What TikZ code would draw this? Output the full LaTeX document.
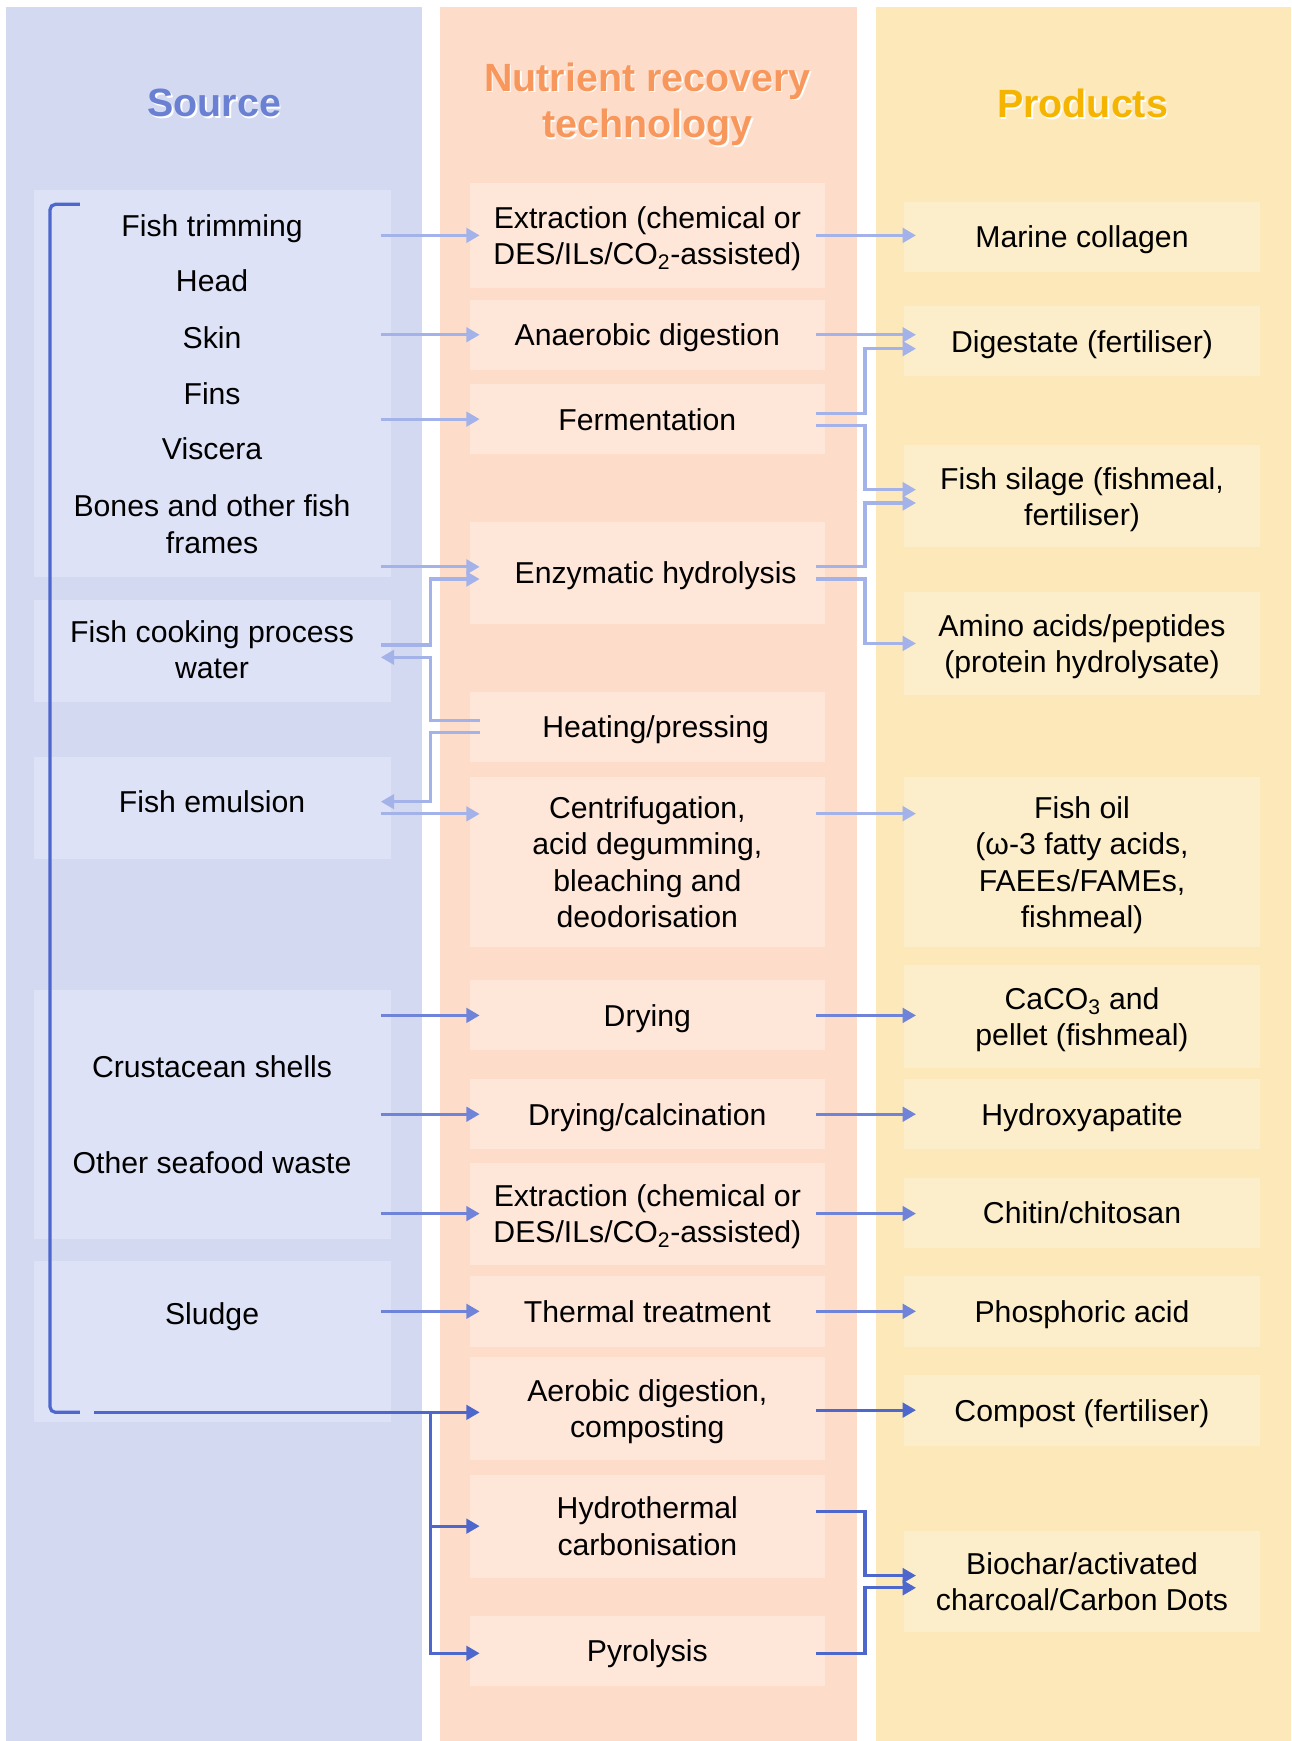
\documentclass[tikz,border=0pt]{standalone}
\usepackage{fontspec}
\setmainfont{Liberation Sans}
\usepackage{xcolor}
\usetikzlibrary{arrows.meta,calc}

\definecolor{srccol}{HTML}{D4D9F2}
\definecolor{srcbox}{HTML}{DEE2F6}
\definecolor{techcol}{HTML}{FDDDCA}
\definecolor{techbox}{HTML}{FEE6D8}
\definecolor{prodcol}{HTML}{FDE8B9}
\definecolor{prodbox}{HTML}{FDEECB}
\definecolor{arrowlight}{HTML}{A3B2E8}
\definecolor{arrowmid}{HTML}{6F84D8}
\definecolor{arrowdark}{HTML}{4D67CD}
\definecolor{headsrc}{HTML}{6A80D2}
\definecolor{headtech}{HTML}{F8975C}
\definecolor{headprod}{HTML}{F5B400}

\newcommand{\bodyfont}{\fontsize{27.2}{32.7}\selectfont}
\newcommand{\headfont}{\fontsize{35.5}{42}\selectfont\bfseries}

\begin{document}
\begin{tikzpicture}[
  x=1pt, y=-1pt,
  sbox/.style={fill=srcbox, inner sep=0pt, minimum width=321pt},
  tbox/.style={fill=techbox, inner sep=0pt, minimum width=320pt, align=center, font=\bodyfont, text depth=0pt},
  pbox/.style={fill=prodbox, inner sep=0pt, minimum width=321pt, align=center, font=\bodyfont, text depth=0pt},
  stext/.style={align=center, font=\bodyfont, inner sep=0pt, text depth=0pt},
  head/.style={align=center, font=\headfont},
  headglow/.style={head, text=white},
  arrowtip/.style={-{Triangle[length=12pt,width=13pt]}},
  flowlight/.style={arrowtip, draw=arrowlight, line width=2.9pt},
  flowmid/.style={arrowtip, draw=arrowmid, line width=2.9pt},
  flowdark/.style={arrowtip, draw=arrowdark, line width=2.9pt}
]
\useasboundingbox (0,0) rectangle (1163,1568);

\fill[srccol] (5,6) rectangle (380,1568);
\fill[techcol] (396,6) rectangle (772,1568);
\fill[prodcol] (789,6) rectangle (1163,1568);

\node[headglow] at (194.5,94.5) {Source};
\node[head, text=headsrc] (srchead) at (193,93) {Source};
\node[headglow] at (584.5,95.5) {Nutrient recovery\\technology};
\node[head, text=headtech] (techhead) at (583,94) {Nutrient recovery\\technology};
\node[headglow] at (976.5,94.5) {Products};
\node[head, text=headprod] (prodhead) at (975,93) {Products};

\node[sbox, minimum height=349pt] (s1) at (191.5,345.5) {};
\node[sbox, minimum height=92pt] (s2) at (191.5,586) {};
\node[sbox, minimum height=92pt] (s3) at (191.5,728) {};
\node[sbox, minimum height=224pt] (s4) at (191.5,1004) {};
\node[sbox, minimum height=145pt] (s5) at (191.5,1208.5) {};

\node[stext] (trim) at (191,203) {Fish trimming};
\node[stext] (headpart) at (191,253) {Head};
\node[stext] (skin) at (191,304) {Skin};
\node[stext] (fins) at (191,354) {Fins};
\node[stext] (viscera) at (191,404) {Viscera};
\node[stext] (bones) at (191,472) {Bones and other fish\\frames};
\node[stext] (cooking) at (191,585) {Fish cooking process\\water};
\node[stext] (emulsion) at (191,722) {Fish emulsion};
\node[stext] (shells) at (191,961) {Crustacean shells};
\node[stext] (otherwaste) at (191,1047) {Other seafood waste};
\node[stext] (sludge) at (191,1183) {Sludge};

\node[tbox, minimum height=94pt] (t1) at (583,212) {Extraction (chemical or\\DES/ILs/CO\textsubscript{2}-assisted)};
\node[tbox, minimum height=63pt] (t2) at (583,301.5) {Anaerobic digestion};
\node[tbox, minimum height=63pt] (t3) at (583,377.5) {Fermentation};
\node[tbox, minimum height=92pt] (t4) at (583,516) {\hspace*{15pt}Enzymatic hydrolysis};
\node[tbox, minimum height=63pt] (t5) at (583,654.5) {\hspace*{15pt}Heating/pressing};
\node[tbox, minimum height=153pt] (t6) at (583,776.5) {Centrifugation,\\acid degumming,\\bleaching and\\deodorisation};
\node[tbox, minimum height=63pt] (t7) at (583,914.5) {Drying};
\node[tbox, minimum height=63pt] (t8) at (583,1003.5) {Drying/calcination};
\node[tbox, minimum height=92pt] (t9) at (583,1093) {Extraction (chemical or\\DES/ILs/CO\textsubscript{2}-assisted)};
\node[tbox, minimum height=64pt] (t10) at (583,1181) {Thermal treatment};
\node[tbox, minimum height=93pt] (t11) at (583,1268.5) {Aerobic digestion,\\composting};
\node[tbox, minimum height=93pt] (t12) at (583,1374.5) {Hydrothermal\\carbonisation};
\node[tbox, minimum height=63pt] (t13) at (583,1486.5) {Pyrolysis};

\node[pbox, minimum height=63pt] (p1) at (974.5,213.5) {Marine collagen};
\node[pbox, minimum height=63pt] (p2) at (974.5,307.5) {Digestate (fertiliser)};
\node[pbox, minimum height=92pt] (p3) at (974.5,447) {Fish silage (fishmeal,\\fertiliser)};
\node[pbox, minimum height=93pt] (p4) at (974.5,579.5) {Amino acids/peptides\\(protein hydrolysate)};
\node[pbox, minimum height=153pt] (p5) at (974.5,776.5) {Fish oil\\(ω-3 fatty acids,\\FAEEs/FAMEs,\\fishmeal)};
\node[pbox, minimum height=93pt] (p6) at (974.5,915.5) {CaCO\textsubscript{3} and\\pellet (fishmeal)};
\node[pbox, minimum height=63pt] (p7) at (974.5,1003.5) {Hydroxyapatite};
\node[pbox, minimum height=63pt] (p8) at (974.5,1092.5) {Chitin/chitosan};
\node[pbox, minimum height=64pt] (p9) at (974.5,1181) {Phosphoric acid};
\node[pbox, minimum height=64pt] (p10) at (974.5,1270) {Compost (fertiliser)};
\node[pbox, minimum height=91pt] (p11) at (974.5,1424.5) {Biochar/activated\\charcoal/Carbon Dots};

\coordinate (sx) at (343,0);
\coordinate (sj) at (388,0);
\coordinate (tx) at (432,0);
\coordinate (tox) at (735,0);
\coordinate (pj) at (779,0);
\coordinate (px) at (825,0);
\coordinate (brtop) at (72,184);
\coordinate (brbot) at (72,1272);
\coordinate (feed) at (85,1272);

\draw[flowlight] (sx|-t1) -- (tx|-t1);
\draw[flowlight] (sx|-t2) -- (tx|-t2);
\draw[flowlight] (sx|-t3) -- (tx|-t3);
\draw[flowlight] ($(sx|-t4)+(0,-5.5)$) -- ($(tx|-t4)+(0,-5.5)$);
\draw[flowlight] ($(sx|-s2)+(0,-5)$) -| ($(sj|-t4)+(0,5.5)$) -- ($(tx|-t4)+(0,5.5)$);
\draw[flowlight] ($(tx|-t5)+(0,-5.5)$) -| ($(sj|-s2)+(0,6)$) -- ($(sx|-s2)+(0,6)$);
\draw[flowlight] ($(tx|-t5)+(0,5.5)$) -| ($(sj|-s3)+(0,-6)$) -- ($(sx|-s3)+(0,-6)$);
\draw[flowlight] ($(sx|-s3)+(0,5)$) -- ($(tx|-s3)+(0,5)$);

\draw[flowlight] (tox|-t1) -- (px|-t1);
\draw[flowlight] (tox|-t2) -- (px|-t2);
\draw[flowlight] ($(tox|-t3)+(0,-5)$) -| ($(pj|-p2)+(0,6.5)$) -- ($(px|-p2)+(0,6.5)$);
\draw[flowlight] ($(tox|-t3)+(0,6)$) -| ($(pj|-p3)+(0,-6)$) -- ($(px|-p3)+(0,-6)$);
\draw[flowlight] ($(tox|-t4)+(0,-5.5)$) -| ($(pj|-p3)+(0,6)$) -- ($(px|-p3)+(0,6)$);
\draw[flowlight] ($(tox|-t4)+(0,5.5)$) -| (pj|-p4) -- (px|-p4);
\draw[flowlight] ($(tox|-t6.north)+(0,33)$) -- ($(px|-t6.north)+(0,33)$);

\foreach \t in {t7,t8,t9,t10} {
  \draw[flowmid] (sx|-\t) -- (tx|-\t);
  \draw[flowmid] (tox|-\t) -- (px|-\t);
}

\draw[arrowdark, line width=2.9pt, rounded corners=5pt] (brtop) -| ($(brbot)+(-27,0)$) -- (brbot);
\draw[flowdark] (feed) -- (tx|-feed);
\draw[flowdark] (sj|-feed) |- ($(tx|-t13)+(0,2.5)$);
\draw[flowdark] (sj|-t12) -- (tx|-t12);

\draw[flowdark] (tox|-p10) -- (px|-p10);
\draw[flowdark] ($(tox|-t12)+(0,-13)$) -| ($(pj|-p11)+(0,-5.5)$) -- ($(px|-p11)+(0,-5.5)$);
\draw[flowdark] ($(tox|-t13)+(0,2.5)$) -| ($(pj|-p11)+(0,5.5)$) -- ($(px|-p11)+(0,5.5)$);
\end{tikzpicture}
\end{document}
